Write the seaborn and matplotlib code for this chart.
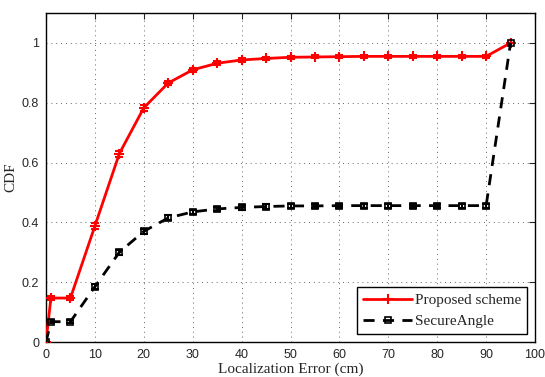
import matplotlib
matplotlib.use("Agg")
import matplotlib.pyplot as plt
import seaborn as sns
import pandas as pd
import numpy as np

x = [0, 1, 5, 10, 15, 20, 25, 30, 35, 40, 45, 50, 55, 60, 65, 70, 75, 80, 85, 90, 95]
proposed = [0.0, 0.147, 0.147, 0.388, 0.630, 0.783, 0.866, 0.910, 0.932, 0.943, 0.948,
            0.952, 0.953, 0.954, 0.955, 0.955, 0.955, 0.955, 0.955, 0.955, 1.0]
proposed_err = [0.0, 0.006, 0.006, 0.009, 0.010, 0.009, 0.008, 0.007, 0.006, 0.006, 0.005,
                0.005, 0.005, 0.005, 0.005, 0.005, 0.005, 0.005, 0.005, 0.005, 0.0]
secure = [0.0, 0.068, 0.068, 0.185, 0.300, 0.370, 0.415, 0.435, 0.445, 0.450, 0.453,
          0.455, 0.455, 0.456, 0.456, 0.456, 0.456, 0.456, 0.456, 0.456, 1.0]
secure_err = [0.0, 0.006, 0.006, 0.008, 0.008, 0.008, 0.008, 0.007, 0.007, 0.007, 0.007,
              0.007, 0.007, 0.007, 0.007, 0.007, 0.007, 0.007, 0.007, 0.007, 0.0]

sns.set_style("white")
plt.rcParams['font.family'] = ['Liberation Sans', 'DejaVu Sans']

fig = plt.figure(figsize=(5.45, 3.77), dpi=100)
ax = fig.add_axes([0.0844, 0.0928, 0.8973, 0.8727])

df = pd.DataFrame({"x": x + x,
                   "y": proposed + secure,
                   "s": ["Proposed scheme"] * len(x) + ["SecureAngle"] * len(x)})

ax.errorbar(x, proposed, yerr=proposed_err, fmt='none', ecolor='red', elinewidth=1.5,
            capsize=3, capthick=1.5, zorder=3)
ax.errorbar(x, secure, yerr=secure_err, fmt='none', ecolor='black', elinewidth=1.5,
            capsize=3, capthick=1.5, zorder=3)

sns.lineplot(data=df[df.s == "Proposed scheme"], x="x", y="y", ax=ax, color='red',
             linewidth=2, marker='+', markersize=7, markeredgewidth=1.5,
             markeredgecolor='red', label="Proposed scheme", zorder=4)
sns.lineplot(data=df[df.s == "SecureAngle"], x="x", y="y", ax=ax, color='black',
             linewidth=2, linestyle=(0, (4, 3)), marker='s', markersize=5,
             markerfacecolor='none', markeredgecolor='black', markeredgewidth=1.2,
             label="SecureAngle", zorder=4)

ax.set_xlim(0, 100)
ax.set_ylim(0, 1.1)
ax.set_xticks(np.arange(0, 101, 10))
ax.set_yticks([0, 0.2, 0.4, 0.6, 0.8, 1.0])
ax.set_yticklabels(["0", "0.2", "0.4", "0.6", "0.8", "1"])
ax.tick_params(direction='in', top=True, right=True, length=4, labelsize=9, pad=5)
ax.grid(True, linestyle=(0, (1, 4)), color='#666666', linewidth=0.7)
for sp in ax.spines.values():
    sp.set_color('black')
    sp.set_linewidth(1.0)

ax.set_xlabel("Localization Error (cm)", family=['Liberation Serif'], fontsize=11, labelpad=1)
ax.set_ylabel("CDF", family=['Liberation Serif'], fontsize=11, labelpad=3)

leg = ax.legend(loc='lower right', prop={'family': 'Liberation Serif', 'size': 11},
                frameon=True, fancybox=False, edgecolor='black', framealpha=1,
                handlelength=3.2, borderaxespad=0.5, handletextpad=0.2)
leg.get_frame().set_linewidth(1.0)

fig.savefig("out.png", dpi=100)
